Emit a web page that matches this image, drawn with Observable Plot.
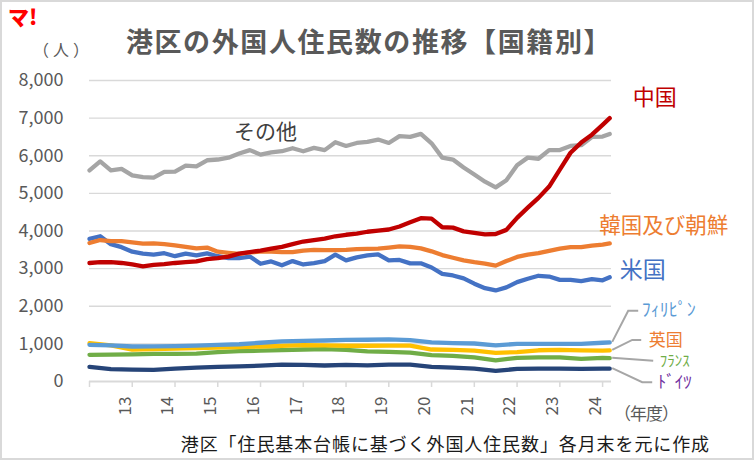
<!DOCTYPE html>
<html><head><meta charset="utf-8">
<script src="https://cdn.jsdelivr.net/npm/d3@7"></script>
<script src="https://cdn.jsdelivr.net/npm/@observablehq/plot@0.6"></script>
<style>
body{margin:0;background:#fff;}
#wrap{position:relative;width:754px;height:460px;background:#fff;overflow:hidden;font-family:"Noto Sans CJK JP",sans-serif;}
#wrap svg{position:absolute;left:0;top:0;}
.t{position:absolute;white-space:nowrap;line-height:1;}
#frame{position:absolute;left:0;top:0;width:754px;height:460px;box-sizing:border-box;border:2px solid #d9d9d9;pointer-events:none;}
</style></head><body>
<div id="wrap">
  <div id="chart"></div>
  <div class="t" style="left:8px;top:6px;color:#ff0000;font-weight:900;font-size:21px;">マ!</div>
  <div class="t" style="left:33px;top:49px;transform:translate(0,-50%);color:#595959;font-size:16px;letter-spacing:4px;">（人）</div>
  <div class="t" style="left:369px;top:40px;transform:translate(-50%,-50%);color:#595959;font-size:27px;font-weight:700;letter-spacing:1.6px;">港区の外国人住民数の推移【国籍別】</div>
  <div class="t" style="left:614px;top:412px;transform:translate(0,-50%);color:#595959;font-size:17px;letter-spacing:-1px;">（年度）</div>
  <div class="t" style="right:44px;top:443px;transform:translate(0,-50%);color:#1a1a1a;font-size:18px;letter-spacing:0.9px;">港区「住民基本台帳に基づく外国人住民数」各月末を元に作成</div>
  <div id="frame"></div>
</div>
<script>
// month index (0 = first month shown), fiscal-year axis
const months = [0,3,6,9,12,15,18,21,24,27,30,33,36,39,42,45,48,51,54,57,60,63,66,69,72,75,78,81,84,87,90,93,96,99,102,105,108,111,114,117,120,123,126,129,132,135,138,141,144,146];
const china  = [3150,3170,3170,3150,3110,3060,3100,3120,3150,3170, 3190,3250,3280,3320,3400,3440,3480,3530,3580,3650, 3720,3760,3800,3860,3900,3930,3980,4010,4040,4120, 4230,4340,4330,4100,4090,3990,3950,3910,3920,4030, 4350,4620,4880,5180,5630,6080,6350,6560,6820,7000];
const others = [5610,5850,5610,5650,5480,5430,5420,5570,5580,5740, 5720,5880,5900,5950,6060,6150,6030,6090,6120,6200, 6120,6210,6150,6360,6260,6340,6370,6430,6340,6520, 6500,6580,6330,5950,5900,5690,5500,5310,5160,5350, 5750,5950,5920,6150,6150,6260,6280,6500,6510,6580];
const korea  = [3680,3760,3730,3730,3700,3665,3670,3650,3615,3575, 3540,3560,3450,3420,3394,3430,3450,3450,3437,3437, 3480,3500,3490,3490,3500,3520,3527,3530,3560,3590, 3580,3540,3460,3360,3290,3220,3170,3130,3080,3200, 3310,3370,3410,3470,3530,3570,3570,3610,3640,3670];
const usa    = [3790,3860,3650,3570,3450,3400,3370,3410,3330,3400, 3350,3405,3330,3280,3280,3320,3130,3190,3090,3200, 3110,3145,3200,3370,3220,3300,3350,3380,3220,3230, 3140,3140,3030,2860,2818,2740,2600,2480,2420,2500, 2640,2730,2810,2790,2700,2703,2670,2720,2690,2770];

const monthsMinor = [0,6,12,18,24,30,36,42,48,54,60,66,72,78,84,90,96,102,108,114,120,126,132,138,144,146];
const philippines = [975,960,930,935,940,955,975,990,1030,1065,1080,1090,1105,1110,1120,1100,1040,1020,1010,960,1000,1000,1000,1000,1030,1040];
const uk          = [1020,960,850,860,875,885,900,915,930,950,965,960,950,950,955,955,850,840,820,760,780,830,840,825,820,825];
const france      = [710,715,720,735,735,740,780,805,820,835,850,860,840,800,790,770,700,680,640,560,630,640,640,600,630,620];
const germany     = [390,330,315,310,340,370,390,400,420,450,440,425,440,430,450,450,390,370,340,280,335,340,340,335,340,340];

const yTicks = [0,1000,2000,3000,4000,5000,6000,7000,8000];
const yearTicks = [0,12,24,36,48,60,72,84,96,108,120,132,144];
const yearLabelMonths = [10,22,34,46,58,70,82,94,106,118,130,142];
const yearLabels = ["13","14","15","16","17","18","19","20","21","22","23","24"];

const mainRows = months.map((m,i)=>({m, china:china[i], others:others[i], korea:korea[i], usa:usa[i]}));
const minorRows = monthsMinor.map((m,i)=>({m, ph:philippines[i], uk:uk[i], fr:france[i], de:germany[i]}));
const labelMap = new Map(yearLabelMonths.map((m,i)=>[m, yearLabels[i]]));
const lastMain = mainRows[mainRows.length-1];
const lastMinor = minorRows[minorRows.length-1];

const lw = 4.3;
const line = (rows, key, color) => Plot.line(rows, {x:"m", y:key, stroke:color, strokeWidth:lw, strokeLinejoin:"round", strokeLinecap:"round"});
const lbl = (row, key, txt, color, size, dx, dy, anchor="middle") =>
  Plot.text([row], {x:"m", y:key, text:()=>txt, fill:color, fontSize:size, dx, dy, textAnchor:anchor});

const plot = Plot.plot({
  width: 754, height: 460,
  marginTop: 80, marginBottom: 79, marginLeft: 89, marginRight: 143,
  style: {fontFamily: '"Noto Sans CJK JP", sans-serif', background: "transparent", overflow: "visible"},
  x: {domain: [0, 146.5], label: null},
  y: {domain: [0, 8000], label: null},
  marks: [
    Plot.gridY(yTicks.slice(1), {stroke:"#d9d9d9", strokeOpacity:1, strokeWidth:1.3}),
    Plot.axisY(yTicks, {tickSize:0, tickPadding:26, tickFormat:d3.format(","), fontSize:18, fill:"#595959", label:null}),
    Plot.ruleY([0], {stroke:"#d9d9d9", strokeWidth:2}),
    Plot.axisX(yearTicks, {tickSize:6, tickFormat:()=>"", stroke:"#d9d9d9", strokeWidth:1.5, label:null}),
    Plot.axisX(yearLabelMonths, {tickSize:0, tickPadding:15, tickRotate:-90, tickFormat:d=>labelMap.get(d), fontSize:17, fill:"#595959", label:null}),
    line(minorRows, "de", "#264478"),
    line(minorRows, "fr", "#70ad47"),
    line(minorRows, "uk", "#ffc000"),
    line(minorRows, "ph", "#5b9bd5"),
    line(mainRows, "others", "#a5a5a5"),
    line(mainRows, "usa", "#4472c4"),
    line(mainRows, "korea", "#ed7d31"),
    line(mainRows, "china", "#c00000"),
    lbl(lastMain, "china", "中国", "#c00000", 22, 45, -20),
    lbl(lastMain, "korea", "韓国及び朝鮮", "#ed7d31", 21.5, 54, -17),
    lbl(lastMain, "usa", "米国", "#4472c4", 23, 33, -7),
    lbl(mainRows[16], "others", "その他", "#404040", 21, 5, -22),
    lbl(lastMinor, "ph", "ﾌｨﾘﾋﾟﾝ", "#5b9bd5", 18, 32, -32, "start"),
    lbl(lastMinor, "uk", "英国", "#ed7d31", 17, 39, -10, "start"),
    lbl(lastMinor, "fr", "ﾌﾗﾝｽ", "#70ad47", 15, 50, 3, "start"),
    lbl(lastMinor, "de", "ﾄﾞｲﾂ", "#7030a0", 17, 48, 14, "start")
  ]
});

// leader lines from series ends to their labels
const xs = plot.scale("x"), ys = plot.scale("y");
const ex = xs.apply(lastMinor.m);
const leaders = [
  [lastMinor.ph, [[3,0],[19,-31],[29,-31]]],
  [lastMinor.uk, [[3,0],[23,-10],[32,-10]]],
  [lastMinor.fr, [[3,0],[44,3]]],
  [lastMinor.de, [[3,0],[33,14],[43,14]]]
];
const svg = d3.select(plot);
for (const [v, pts] of leaders) {
  const ey = ys.apply(v);
  svg.append("path")
    .attr("d", d3.line()(pts.map(([dx,dy])=>[ex+dx, ey+dy])))
    .attr("fill","none").attr("stroke","#a6a6a6").attr("stroke-width",2);
}
document.getElementById("chart").appendChild(plot);
</script>
</body></html>
